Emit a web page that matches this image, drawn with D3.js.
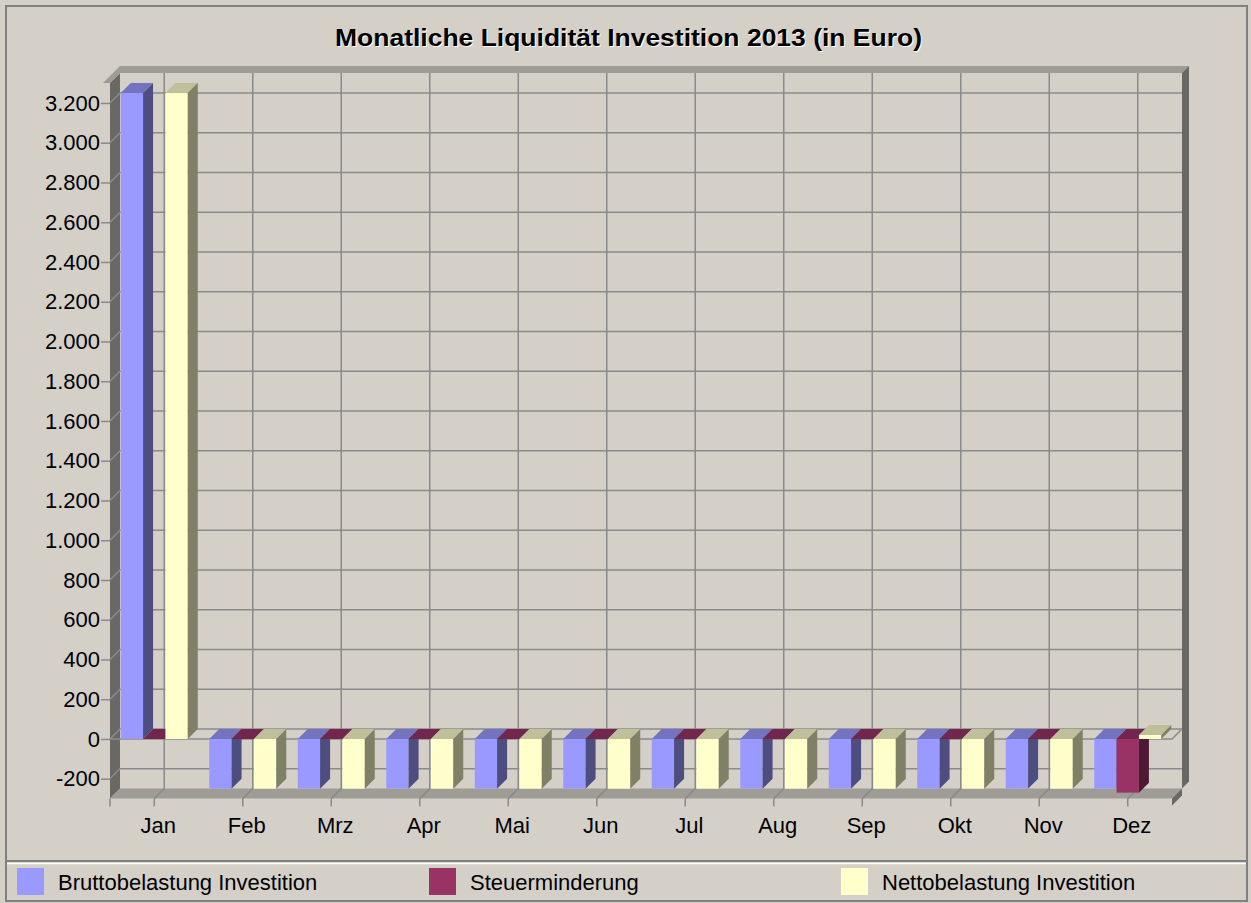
<!DOCTYPE html>
<html>
<head>
<meta charset="utf-8">
<script src="https://cdn.jsdelivr.net/npm/d3@7"></script>
<style>
  body { margin: 0; background: #D4D0C8; }
  svg text { font-family: "Liberation Sans", Arial, sans-serif; fill: #000; }
</style>
</head>
<body>
<div id="chart"></div>
<script>
// chart data
var months = ["Jan", "Feb", "Mrz", "Apr", "Mai", "Jun", "Jul", "Aug", "Sep", "Okt", "Nov", "Dez"];
var seriesNames = ["Bruttobelastung Investition", "Steuerminderung", "Nettobelastung Investition"];
var brutto = [3250, -250, -250, -250, -250, -250, -250, -250, -250, -250, -250, -250];
var steuer = [0, 0, 0, 0, 0, 0, 0, 0, 0, 0, 0, -270];
var netto  = [3250, -250, -250, -250, -250, -250, -250, -250, -250, -250, -250, 20];
var yTicks = [-200, 0, 200, 400, 600, 800, 1000, 1200, 1400, 1600, 1800, 2000, 2200, 2400, 2600, 2800, 3000, 3200];
var seriesColors = ["#9999FF", "#993366", "#FFFFCC"];
var title = "Monatliche Liquidität Investition 2013 (in Euro)";

var values = [brutto, steuer, netto];

var width = 1251, height = 903;
var wallColor = "#D4D0C8";
var gridColor = "#8a8a8a";
var DX = 10, DY = 10, T = 7; // depth offset and wall thickness

function shade(c, k) {
    var r = d3.rgb(c);
    return d3.rgb(r.r * k, r.g * k, r.b * k).formatHex();
}

var de = d3.formatLocale({decimal: ",", thousands: ".", grouping: [3], currency: ["", " €"], minus: "-"});
var fmt = de.format(",d");

var svg = d3.select("#chart").append("svg")
    .attr("width", width)
    .attr("height", height);

svg.append("rect").attr("width", width).attr("height", height).attr("fill", wallColor);

// scales
var x0 = d3.scaleBand().domain(months).range([110, 1172]);
var x1 = d3.scaleBand().domain(seriesNames).range([10.75, x0.bandwidth() - 10.75]);
var y = d3.scaleLinear().domain([-300, 3300]).range([798.6, 83.1]);

var xL = x0.range()[0], xR = x0.range()[1];
var yT = y(3300), yB = y(-300), y0 = y(0);

var line = d3.line();
var plot = svg.append("g");

// walls and floor
plot.append("path").attr("fill", shade(wallColor, 0.5))
    .attr("d", line([[xL, yT], [xL + DX, yT - DY], [xL + DX, yB - DY], [xL, yB]]) + "Z");
plot.append("path").attr("fill", shade(wallColor, 0.75))
    .attr("d", line([[xL + DX - T, yT - DY], [xL + DX, yT - DY - T], [xR + DX + T, yT - DY - T], [xR + DX, yT - DY]]) + "Z");
plot.append("path").attr("fill", shade(wallColor, 0.5))
    .attr("d", line([[xR + DX, yT - DY], [xR + DX + T, yT - DY - T], [xR + DX + T, yB - DY - T], [xR + DX, yB - DY]]) + "Z");
plot.append("path").attr("fill", shade(wallColor, 0.75))
    .attr("d", line([[xL - T, yT], [xL, yT], [xL + DX, yT - DY], [xL + DX - T, yT - DY]]) + "Z");
plot.append("path").attr("fill", shade(wallColor, 0.75))
    .attr("d", line([[xL, yB], [xL + DX, yB - DY], [xR + DX, yB - DY], [xR, yB]]) + "Z");
plot.append("path").attr("fill", shade(wallColor, 0.5))
    .attr("d", line([[xR, yB], [xR + DX, yB - DY], [xR + DX, yB - DY + T], [xR, yB + T]]) + "Z");

// horizontal gridlines (left wall + back wall)
plot.selectAll(".hgrid").data(yTicks).enter().append("path")
    .attr("class", "hgrid")
    .attr("fill", "none").attr("stroke", gridColor).attr("stroke-width", 1.5)
    .attr("d", function(t) {
        return line([[xL, y(t)], [xL + DX, y(t) - DY], [xR + DX, y(t) - DY]]);
    });

// vertical gridlines (back wall + floor)
plot.selectAll(".vgrid").data(months).enter().append("path")
    .attr("class", "vgrid")
    .attr("fill", "none").attr("stroke", gridColor).attr("stroke-width", 1.5)
    .attr("d", function(m) {
        var c = x0(m) + x0.bandwidth() / 2;
        return line([[c + DX, yT - DY], [c + DX, yB - DY], [c, yB]]);
    });

// zero plane outline
plot.append("path").attr("fill", "none").attr("stroke", gridColor).attr("stroke-width", 1.5)
    .attr("d", line([[xL, y0], [xR, y0], [xR + DX, y0 - DY]]));

// y axis
var yAxis = svg.append("g")
    .attr("transform", "translate(" + xL + ",0)")
    .call(d3.axisLeft(y).tickValues(yTicks).tickFormat(fmt).tickSize(9).tickPadding(1));
yAxis.select(".domain").remove();
yAxis.selectAll("line").attr("stroke", gridColor).attr("stroke-width", 1.5);
yAxis.selectAll("text").style("font-size", "22px").attr("font-family", null);

// x axis
var xAxis = svg.append("g")
    .attr("transform", "translate(0," + yB + ")")
    .call(d3.axisBottom(x0).tickSize(8).tickPadding(11));
xAxis.select(".domain").remove();
xAxis.selectAll("line").attr("stroke", gridColor).attr("stroke-width", 1.5);
xAxis.selectAll("text").style("font-size", "22px").attr("dx", 4).attr("font-family", null);
svg.append("line").attr("x1", xL).attr("x2", xL).attr("y1", yB).attr("y2", yB + 8)
    .attr("stroke", gridColor).attr("stroke-width", 1.5);

// bars
var bars = svg.append("g");
months.forEach(function(m, i) {
    seriesNames.forEach(function(s, j) {
        var v = values[j][i];
        var col = seriesColors[j];
        var bx = x0(m) + x1(s), w = x1.bandwidth();
        var top = y(Math.max(v, 0)), bot = y(Math.min(v, 0));
        var g = bars.append("g");
        g.append("rect").attr("x", bx).attr("y", top).attr("width", w).attr("height", bot - top)
            .attr("fill", col);
        g.append("path").attr("fill", shade(col, 0.75))
            .attr("d", line([[bx, top], [bx + DX, top - DY], [bx + w + DX, top - DY], [bx + w, top]]) + "Z");
        g.append("path").attr("fill", shade(col, 0.5))
            .attr("d", line([[bx + w, top], [bx + w + DX, top - DY], [bx + w + DX, bot - DY], [bx + w, bot]]) + "Z");
    });
});

// title with light shadow
svg.append("text").attr("x", 629.5).attr("y", 46.5).attr("text-anchor", "middle")
    .attr("textLength", 587).attr("lengthAdjust", "spacingAndGlyphs")
    .style("font-size", "23px").style("font-weight", "bold").style("fill", "#ffffff")
    .text(title);
svg.append("text").attr("x", 628.5).attr("y", 45.5).attr("text-anchor", "middle")
    .attr("textLength", 587).attr("lengthAdjust", "spacingAndGlyphs")
    .style("font-size", "23px").style("font-weight", "bold")
    .text(title);

// frame and legend divider
svg.append("rect").attr("x", 6).attr("y", 6).attr("width", 1241).attr("height", 895)
    .attr("fill", "none").attr("stroke", "#808080").attr("stroke-width", 2);
svg.append("line").attr("x1", 6).attr("x2", 1247).attr("y1", 861).attr("y2", 861)
    .attr("stroke", "#808080").attr("stroke-width", 2);
svg.append("line").attr("x1", 7).attr("x2", 1246).attr("y1", 863.5).attr("y2", 863.5)
    .attr("stroke", "#ffffff").attr("stroke-width", 1.5);

// legend
var legend = svg.selectAll(".legend").data(seriesNames).enter().append("g")
    .attr("class", "legend")
    .attr("transform", function(d, i) { return "translate(" + (17 + i * 412) + ",868)"; });
legend.append("rect").attr("width", 27).attr("height", 27)
    .attr("fill", function(d, i) { return seriesColors[i]; });
legend.append("text").attr("x", 41).attr("y", 22).style("font-size", "22px")
    .text(function(d) { return d; });
</script>
</body>
</html>
